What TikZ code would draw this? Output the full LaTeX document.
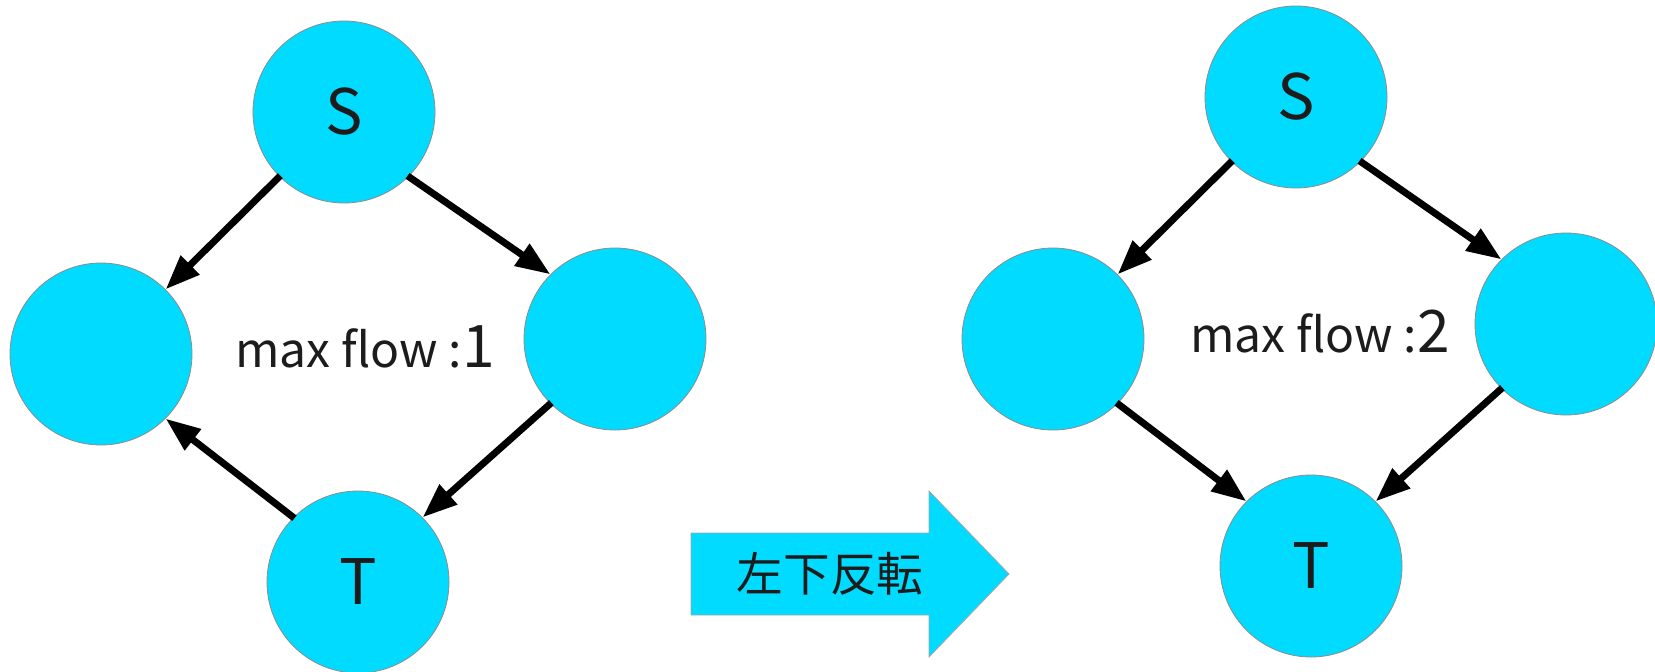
\documentclass[tikz,border=0pt]{standalone}
\usepackage{fontspec}
\setmainfont{Noto Sans CJK JP}
\usetikzlibrary{arrows.meta}
\definecolor{nodecyan}{RGB}{0,219,255}
\definecolor{txt}{RGB}{28,28,28}
\tikzset{
  vert/.style={circle, inner sep=0pt, minimum size=136.5pt, fill=nodecyan, draw=gray!90, line width=0.6pt, text=txt, font=\fontsize{47}{50}\selectfont},
  edge/.style={line width=5.2pt, -{Triangle[length=26pt,width=19pt]}, shorten <=-1pt},
  flowlbl/.style={text=txt, font=\fontsize{36}{40}\selectfont, inner sep=0pt},
  bigarrow/.style={fill=nodecyan, draw=gray!70, line width=0.6pt},
}
\begin{document}
\begin{tikzpicture}[x=0.75pt,y=-0.75pt]
\useasboundingbox (0,0) rectangle (1655,671);
% left graph
\node[vert] (S1) at (344,112) {S};
\node[vert] (L1) at (101,354) {};
\node[vert] (R1) at (615,339) {};
\node[vert] (T1) at (358,582) {T};
\node[flowlbl] (f1) at (365,347) {max flow :{\fontsize{44}{46}\selectfont 1}};
\draw[edge] (S1.-135) -- (L1.45);
\draw[edge] (S1.-45) -- (R1.135);
\draw[edge] (R1.-135) -- (T1.45);
\draw[edge] (T1.135) -- (L1.-45);
% big arrow
\path[bigarrow] (691,533) -- (929,533) -- (929,491) -- (1009,574) -- (929,657) -- (929,615) -- (691,615) -- cycle;
\node[text=txt, font=\fontsize{35}{38}\selectfont, inner sep=0pt] (flip) at (830,574) {左下反転};
% right graph
\node[vert] (S2) at (1296,97) {S};
\node[vert] (L2) at (1053,339) {};
\node[vert] (R2) at (1566,324) {};
\node[vert] (T2) at (1311,566) {T};
\node[flowlbl] (f2) at (1320,332) {max flow :{\fontsize{44}{46}\selectfont 2}};
\draw[edge] (S2.-135) -- (L2.45);
\draw[edge] (S2.-45) -- (R2.135);
\draw[edge] (L2.-45) -- (T2.135);
\draw[edge] (R2.-135) -- (T2.45);
\end{tikzpicture}
\end{document}
